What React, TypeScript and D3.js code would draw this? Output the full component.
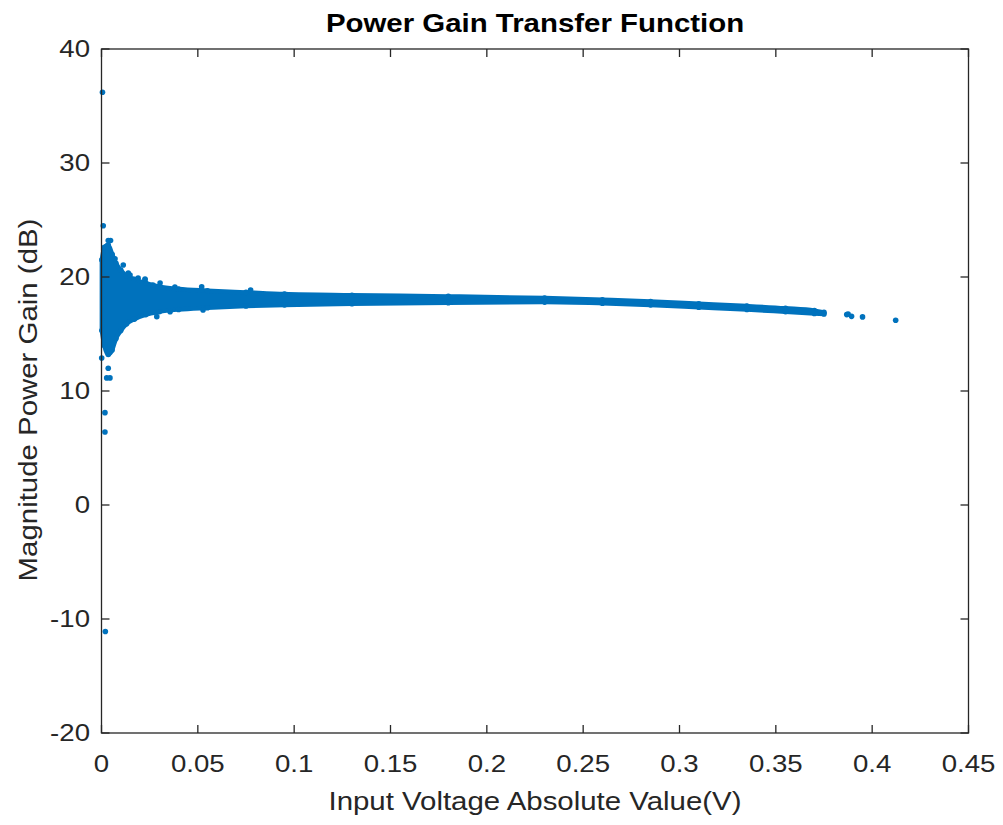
import React from "react";
import * as d3 from "d3";

// Dense band envelope (marker centres)
const bandX = [0.0002, 0.0015, 0.0035, 0.0055, 0.0075, 0.010, 0.013, 0.017, 0.023, 0.030, 0.040, 0.055, 0.075, 0.095, 0.13, 0.18, 0.23, 0.26, 0.285, 0.31, 0.335, 0.355, 0.37, 0.375];
const bandUpper = [21.5, 22.6, 22.8, 22.0, 21.2, 20.6, 20.1, 19.8, 19.45, 19.15, 18.95, 18.8, 18.65, 18.5, 18.4, 18.3, 18.15, 18.0, 17.85, 17.65, 17.45, 17.25, 17.05, 16.9];
const bandLower = [15.3, 14.0, 13.2, 13.6, 14.6, 15.3, 15.9, 16.3, 16.7, 16.95, 17.15, 17.3, 17.45, 17.55, 17.65, 17.75, 17.8, 17.7, 17.55, 17.35, 17.15, 16.95, 16.8, 16.75];

// Individual scattered points
const pointX = [0.0005, 0.0018, 0.0018, 0.002, 0.0009, 0.0035, 0.0027, 0.0047, 0.007, 0.0113, 0.0139, 0.019, 0.0226, 0.0267, 0.0001, 0.0044, 0.0035, 0.0027, 0.0044, 0.0148, 0.0226, 0.0304, 0.0381, 0.052, 0.0774, 0.0287, 0.0356, 0.0527, 0.3868, 0.3875, 0.3893, 0.395, 0.4122];
const pointY = [36.2, 8.1, 6.4, -11.1, 24.5, 23.2, 22.7, 23.2, 21.6, 21.05, 20.35, 19.9, 19.75, 19.3, 12.9, 13.45, 12.0, 11.15, 11.15, 20.18, 19.82, 19.47, 19.12, 19.15, 18.86, 16.52, 16.96, 17.1, 16.7, 16.75, 16.55, 16.5, 16.2];

const xTicks = [0, 0.05, 0.1, 0.15, 0.2, 0.25, 0.3, 0.35, 0.4, 0.45];
const xTickLabels = ["0", "0.05", "0.1", "0.15", "0.2", "0.25", "0.3", "0.35", "0.4", "0.45"];
const yTicks = [-20, -10, 0, 10, 20, 30, 40];

const W = 1003, H = 825;
const L = 101.5, R = 968.5, T = 49, B = 733;
const BLUE = "#0072BD";
const AX = "#262626";
const FONT = "'Liberation Sans', Arial, Helvetica, sans-serif";
const SX_TICK = 1.15;
const SX_LAB = 1.11;

export default function App() {
  const x = d3.scaleLinear().domain([0, 0.45]).range([L, R]);
  const y = d3.scaleLinear().domain([-20, 40]).range([B, T]);
  const band = bandX.map((v, i) => ({ x: v, u: bandUpper[i], l: bandLower[i] }));
  const area = d3.area<any>().x(d => x(d.x)).y0(d => y(d.l)).y1(d => y(d.u)).curve(d3.curveMonotoneX);
  const pts = pointX.map((v, i) => ({ x: v, y: pointY[i] }));
  const tl = 8;
  return (
    <svg width={W} height={H} style={{ position: "absolute", left: 0, top: 0, background: "#fff" }} fontFamily={FONT}>
      <rect x={0} y={0} width={W} height={H} fill="#fff" />
      <path d={area(band) || ""} fill={BLUE} stroke={BLUE} strokeWidth={4.5} strokeLinejoin="round" />
      {band.map((d, i) => (
        <g key={"b" + i}>
          <circle cx={x(d.x)} cy={y(d.u)} r={2.8} fill={BLUE} />
          <circle cx={x(d.x)} cy={y(d.l)} r={2.8} fill={BLUE} />
        </g>
      ))}
      {pts.map((d, i) => (
        <circle key={"p" + i} cx={x(d.x)} cy={y(d.y)} r={2.8} fill={BLUE} />
      ))}
      <rect x={L} y={T} width={R - L} height={B - T} fill="none" stroke={AX} strokeWidth={1.3} />
      {xTicks.map((t, i) => (
        <g key={"xt" + i}>
          <line x1={x(t)} x2={x(t)} y1={B} y2={B - tl} stroke={AX} strokeWidth={1.3} />
          <line x1={x(t)} x2={x(t)} y1={T} y2={T + tl} stroke={AX} strokeWidth={1.3} />
          <text transform={`translate(${x(t)},772) scale(${SX_TICK},1)`} textAnchor="middle" fontSize={24} fill={AX}>{xTickLabels[i]}</text>
        </g>
      ))}
      {yTicks.map((t, i) => (
        <g key={"yt" + i}>
          <line x1={L} x2={L + tl} y1={y(t)} y2={y(t)} stroke={AX} strokeWidth={1.3} />
          <line x1={R} x2={R - tl} y1={y(t)} y2={y(t)} stroke={AX} strokeWidth={1.3} />
          <text transform={`translate(90,${y(t)}) scale(${SX_TICK},1)`} dy="0.35em" textAnchor="end" fontSize={24} fill={AX}>{t}</text>
        </g>
      ))}
      <text transform={`translate(${(L + R) / 2},810) scale(${SX_LAB},1)`} textAnchor="middle" fontSize={26.5} fill={AX}>Input Voltage Absolute Value(V)</text>
      <text transform={`translate(37,${(T + B) / 2 + 9}) rotate(-90) scale(${SX_LAB},1)`} textAnchor="middle" fontSize={26.5} fill={AX}>Magnitude Power Gain (dB)</text>
      <text transform={`translate(${(L + R) / 2},32) scale(${SX_LAB},1)`} textAnchor="middle" fontSize={26.5} fontWeight="bold" fill="#000">Power Gain Transfer Function</text>
    </svg>
  );
}
